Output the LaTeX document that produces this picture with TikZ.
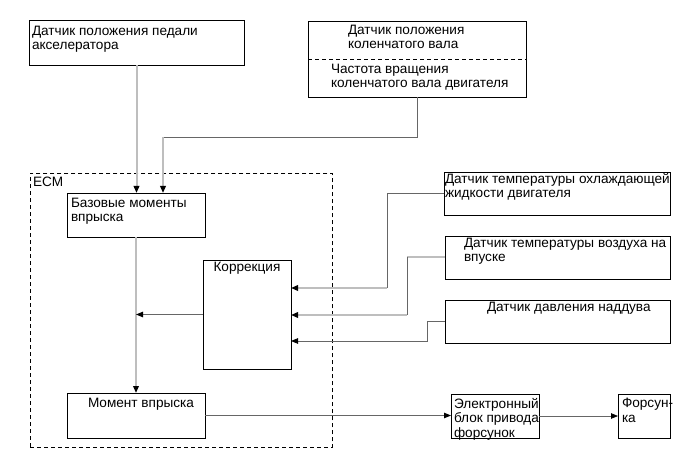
\documentclass[tikz,border=0pt]{standalone}
\usepackage{fontspec}
\setmainfont{Liberation Sans}
\usetikzlibrary{arrows.meta}
\definecolor{lg}{HTML}{BEBEBE}
\definecolor{dg}{HTML}{666666}
\begin{document}
\begin{tikzpicture}[x=1pt,y=-1pt,
  box/.style={draw=black, line width=0.9pt, inner sep=0pt, outer sep=0pt, rectangle, anchor=north west},
  txt/.style={inner sep=0pt, outer sep=0pt, anchor=north west, align=left, font=\fontsize{13.6}{14.6}\selectfont},
  light/.style={draw=lg, line width=2pt},
  dark/.style={draw=dg, line width=0.8pt},
  arr/.style={-{Triangle[length=7pt,width=5.5pt,color=black]}},
  dashline/.style={draw=black, line width=0.8pt, dash pattern=on 4pt off 3pt}]
\useasboundingbox (0,0) rectangle (691,465);
% ECM frame
\node[dashline, rectangle, inner sep=0pt, anchor=north west, minimum width=302pt, minimum height=274pt] (ecm) at (30,173) {};
\node[txt] (ecmt) at (33,177) {ECM};
% boxes
\node[box, minimum width=215pt, minimum height=45pt] (pedal) at (29,20) {};
\node[box, minimum width=218pt, minimum height=76pt] (crank) at (308,21) {};
\node[box, minimum width=138pt, minimum height=44pt] (base) at (67,193) {};
\node[box, minimum width=88pt, minimum height=109pt] (corr) at (203,260) {};
\node[box, minimum width=138pt, minimum height=45pt] (moment) at (67,393) {};
\node[box, minimum width=226pt, minimum height=43pt] (cool) at (444,172) {};
\node[box, minimum width=225pt, minimum height=43pt] (air) at (445,236) {};
\node[box, minimum width=225pt, minimum height=43pt] (boost) at (445,300) {};
\node[box, minimum width=88pt, minimum height=44pt] (eblock) at (451,394) {};
\node[box, minimum width=52pt, minimum height=44pt] (fors) at (618,394) {};
% crank divider
\coordinate (dv) at (0,59);
\draw[dashline] (crank.west |- dv) -- (crank.east |- dv);
% texts
\node[txt] (pedalt) at (32,26) {Датчик положения педали\\акселератора};
\node[txt] (crankt1) at (348,25) {Датчик положения\\коленчатого вала};
\node[txt] (crankt2) at (331,64) {Частота вращения\\коленчатого вала двигателя};
\node[txt] (baset) at (71,198) {Базовые моменты\\впрыска};
\node[txt, anchor=north] (corrt) at (247,262) {Коррекция};
\node[txt] (coolt) at (445,173) {Датчик температуры охлаждающей\\жидкости двигателя};
\node[txt] (airt) at (464,238) {Датчик температуры воздуха на\\впуске};
\node[txt] (boostt) at (487,302) {Датчик давления наддува};
\node[txt] (momentt) at (88,398) {Момент впрыска};
\node[txt] (eblockt) at (454,398) {Электронный\\блок привода\\форсунок};
\node[txt] (forst) at (622,398) {Форсун-\\ка};
% connectors
\draw[light, arr] (pedal.south) -- (pedal.south |- base.north);
\draw[light, arr] (base.south) -- (base.south |- moment.north);
\coordinate (c1) at (163,137);
\draw[dark] (crank.south) |- (c1);
\draw[light, arr] (c1) -- (c1 |- base.north);
\draw[dark, arr] (corr.west) -- (corr.west -| base.south);
\coordinate (k1) at (387,288);
\draw[dark] (cool.west) -| (k1);
\draw[light, arr] (k1) -- (k1 -| corr.east);
\coordinate (a1) at (407,315);
\draw[light] (air.west) -- (air.west -| a1);
\draw[dark] (air.west -| a1) -- (a1);
\draw[light, arr] (a1) -- (a1 -| corr.east);
\coordinate (b1) at (427,341);
\draw[dark, arr] (boost.west) -| (b1) -- (b1 -| corr.east);
\draw[dark, arr] (moment.east) -- (moment.east -| eblock.west);
\draw[dark, arr] (eblock.east) -- (eblock.east -| fors.west);
\end{tikzpicture}
\end{document}
